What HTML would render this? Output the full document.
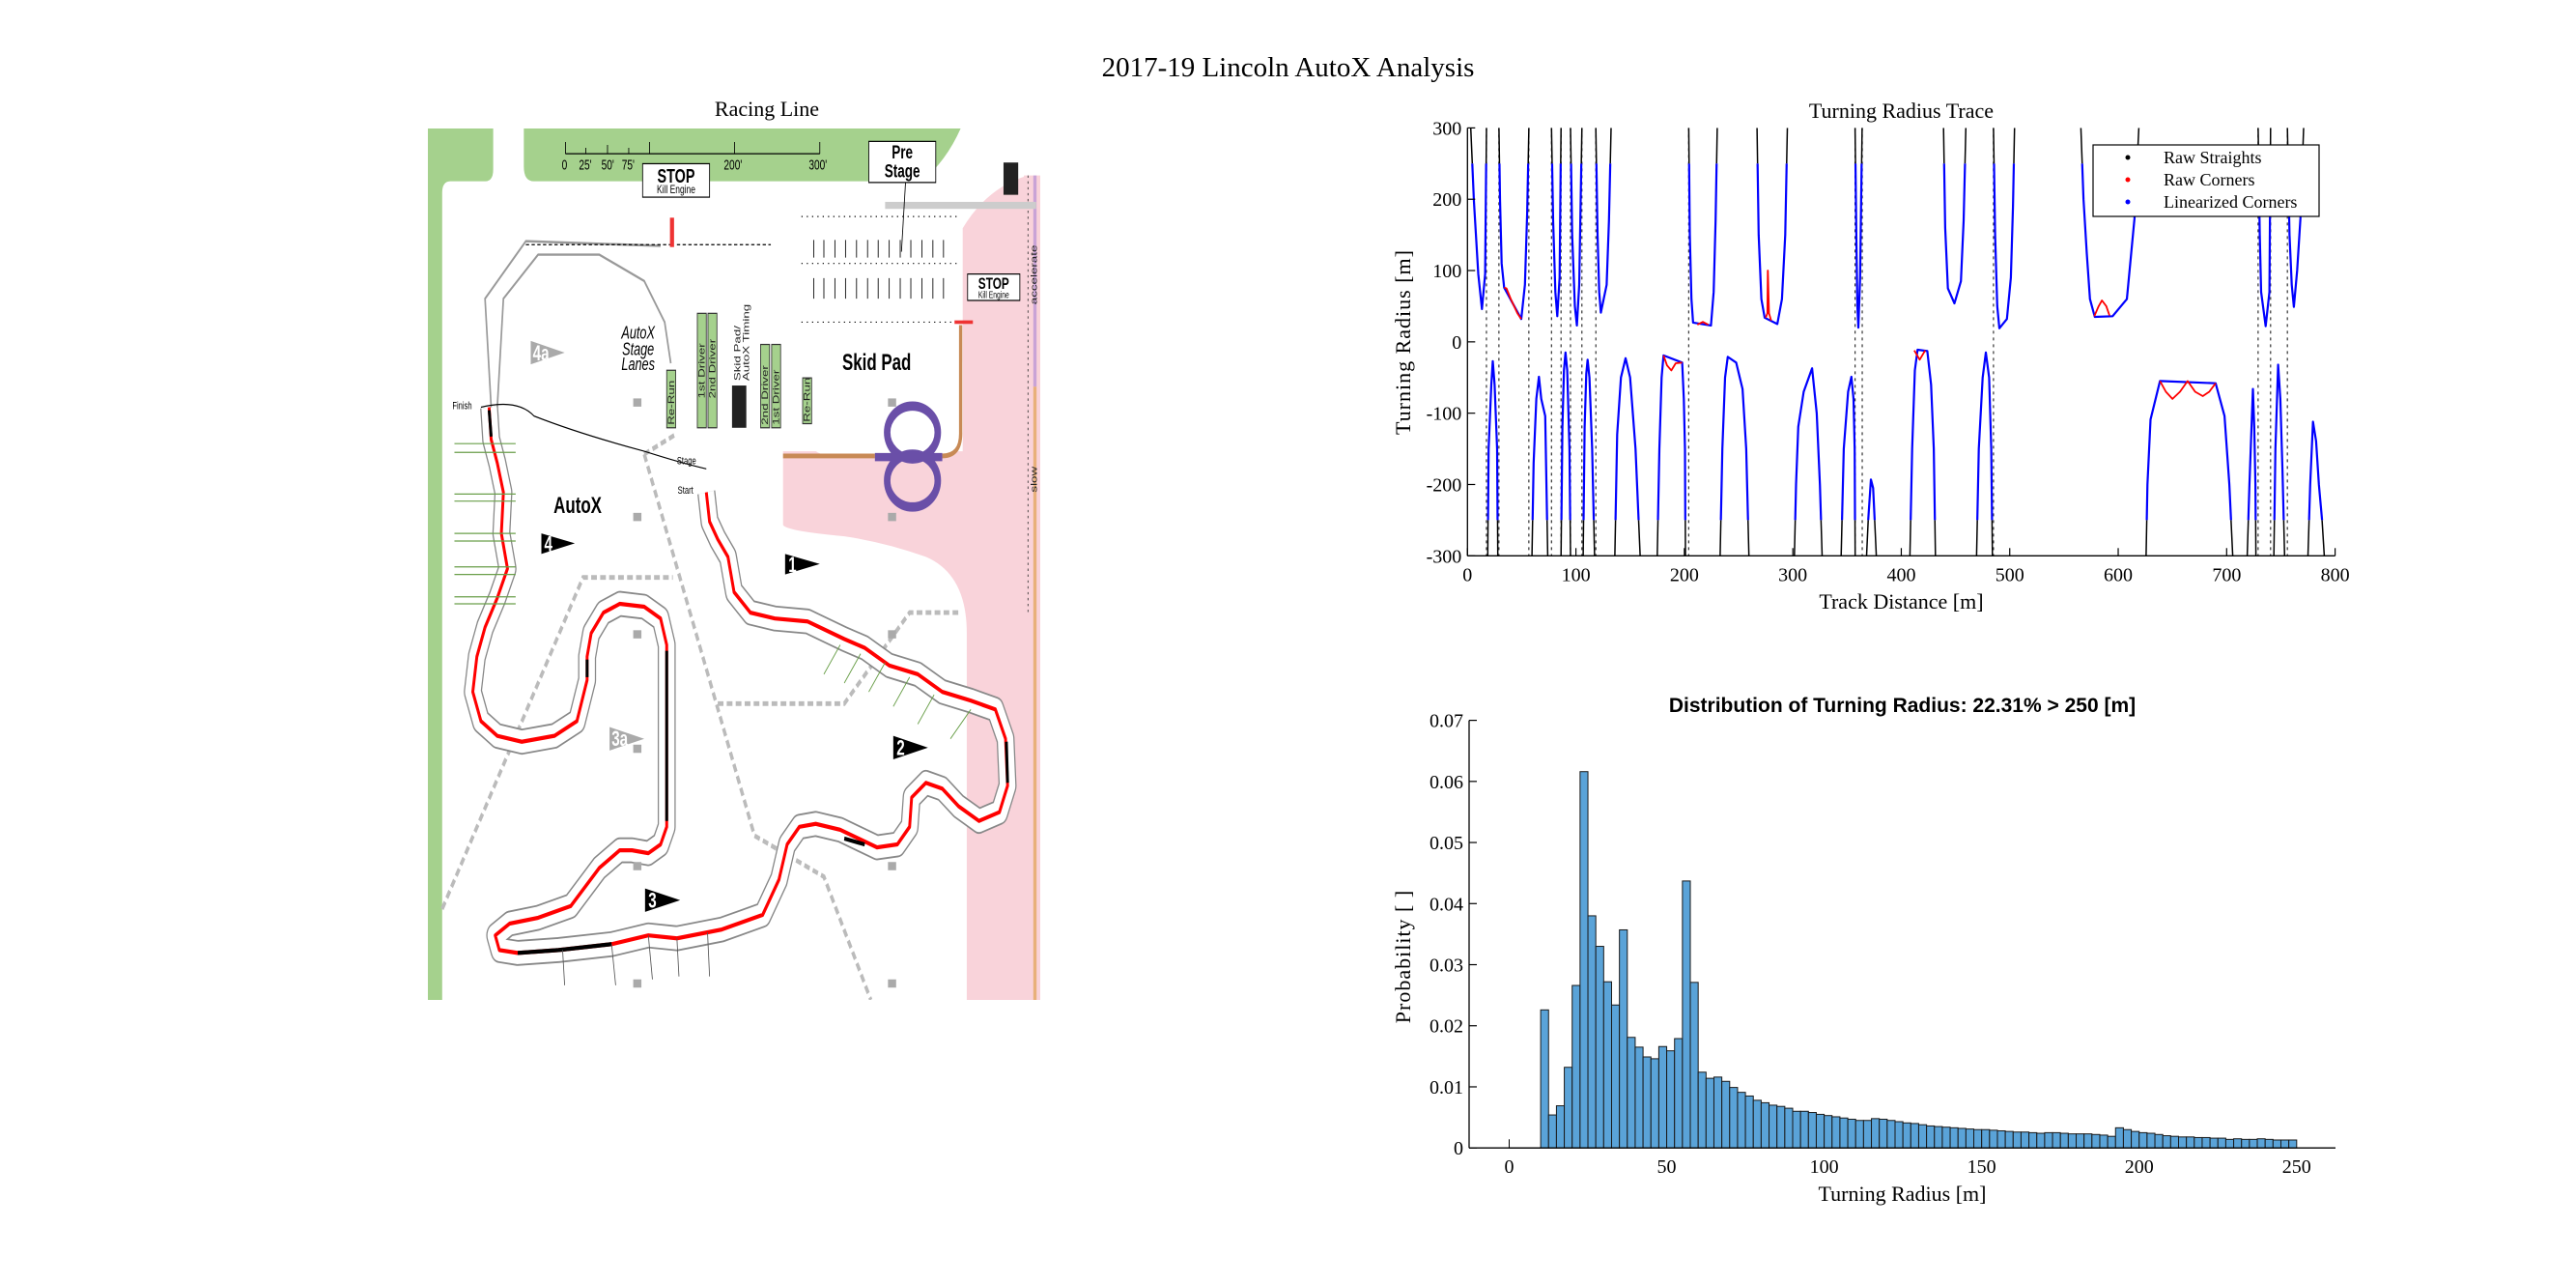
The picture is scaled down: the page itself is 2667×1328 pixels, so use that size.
<!DOCTYPE html>
<html><head><meta charset="utf-8"><style>
html,body{margin:0;padding:0;background:#fff}
#root{position:relative;width:2667px;height:1328px;overflow:hidden;background:#fff;font-family:"Liberation Serif",serif}
.t{position:absolute;white-space:nowrap}
</style></head><body>
<div id="root">
<div class="t" style="left:0;width:2667px;text-align:center;top:54px;font-size:29px;">2017-19 Lincoln AutoX Analysis</div>
<div class="t" style="left:694px;width:200px;text-align:center;top:100px;font-size:22px;">Racing Line</div>

<svg style="position:absolute;left:443px;top:133px" width="634" height="902" viewBox="30 70 1500 1485" preserveAspectRatio="none">
<rect x="30" y="70" width="1500" height="1485" fill="#fff"/>
<path d="M30,70 H190 V140 Q190,160 170,160 H85 Q65,160 65,180 V1555 H30 Z" fill="#a5d18d"/>
<path d="M265,70 H1335 Q1300,125 1240,160 H290 Q265,160 265,135 Z" fill="#a5d18d"/>
<path d="M1340,240 Q1400,170 1500,150 V1555 H1350 V930 Q1350,830 1250,800 Q1150,775 1050,765 Q900,755 900,745 V620 H1340 Z" fill="#f9d3da"/>
<rect x="1490" y="150" width="40" height="1405" fill="#f9d3da"/>
<line x1="1517" y1="150" x2="1517" y2="510" stroke="#c9a3d6" stroke-width="8"/>
<line x1="1517" y1="510" x2="1517" y2="1555" stroke="#e8b07a" stroke-width="8"/>
<line x1="1500" y1="150" x2="1500" y2="900" stroke="#333" stroke-width="2" stroke-dasharray="4,6"/>
<rect x="960" y="430" width="380" height="195" rx="40" fill="#fff"/>
<g fill="none" stroke="#bbb" stroke-width="8" stroke-dasharray="14,8">
<path d="M65,1400 L410,835 H630"/><path d="M560,625 L640,590"/><path d="M560,625 L830,1275 L1000,1345 L1115,1555"/><path d="M740,1050 H1050 L1210,895 H1335"/>
</g>
<g stroke="#000" stroke-width="2" fill="none">
<path d="M367,113 H990 M367,93 V113 M417,103 V113 M470,98 V113 M522,103 V113 M573,93 V113 M781,93 V113 M990,93 V113"/>
</g>
<g font-family="Liberation Sans,sans-serif" font-size="24" fill="#000">
<text x="358" y="140">0</text><text x="400" y="140">25'</text><text x="455" y="140">50'</text><text x="505" y="140">75'</text><text x="755" y="140">200'</text><text x="963" y="140">300'</text>
</g>
<g fill="none" stroke-linejoin="round">
<path id="trk" d="M180,545 L185,600 L200,640 L215,690 L210,760 L225,820 L200,870 L170,920 L150,970 L140,1030 L160,1080 L200,1105 L260,1115 L340,1105 L395,1080 L420,1010 L420,970 L430,930 L460,895 L500,880 L560,885 L600,905 L615,950 L615,1260 L600,1290 L570,1305 L530,1300 L500,1300 L450,1330 L380,1395 L300,1415 L230,1425 L195,1445 L205,1470 L250,1475 L350,1470 L480,1460 L570,1445 L640,1450 L750,1435 L850,1410 L890,1350 L910,1290 L940,1260 L980,1255 L1040,1265 L1130,1295 L1180,1290 L1210,1260 L1215,1210 L1250,1185 L1290,1195 L1330,1225 L1380,1250 L1430,1235 L1450,1190 L1445,1110 L1420,1060 L1360,1045 L1290,1030 L1230,1000 L1160,985 L1100,955 L1050,940 L960,910 L880,905 L820,895 L780,860 L765,800 L740,770 L720,740 L712,690" stroke="#888" stroke-width="44"/>
<path d="M180,545 L185,600 L200,640 L215,690 L210,760 L225,820 L200,870 L170,920 L150,970 L140,1030 L160,1080 L200,1105 L260,1115 L340,1105 L395,1080 L420,1010 L420,970 L430,930 L460,895 L500,880 L560,885 L600,905 L615,950 L615,1260 L600,1290 L570,1305 L530,1300 L500,1300 L450,1330 L380,1395 L300,1415 L230,1425 L195,1445 L205,1470 L250,1475 L350,1470 L480,1460 L570,1445 L640,1450 L750,1435 L850,1410 L890,1350 L910,1290 L940,1260 L980,1255 L1040,1265 L1130,1295 L1180,1290 L1210,1260 L1215,1210 L1250,1185 L1290,1195 L1330,1225 L1380,1250 L1430,1235 L1450,1190 L1445,1110 L1420,1060 L1360,1045 L1290,1030 L1230,1000 L1160,985 L1100,955 L1050,940 L960,910 L880,905 L820,895 L780,860 L765,800 L740,770 L720,740 L712,690" stroke="#fff" stroke-width="38"/>
<path d="M185,545 L170,360 L270,262 L600,270 M200,545 L215,360 L300,285 L450,285 L560,330 L610,400 L625,470" stroke="#999" stroke-width="4"/>
<path d="M270,268 H630 M640,268 H870" stroke="#000" stroke-width="2" stroke-dasharray="8,6"/>
<path d="M160,545 Q250,530 290,560 Q400,590 560,620 Q650,640 712,650" stroke="#000" stroke-width="2"/>
</g>
<path d="M180,545 L185,600 L200,640 L215,690 L210,760 L225,820 L200,870 L170,920 L150,970 L140,1030 L160,1080 L200,1105 L260,1115 L340,1105 L395,1080 L420,1010 L420,970 L430,930 L460,895 L500,880 L560,885 L600,905 L615,950 L615,1260 L600,1290 L570,1305 L530,1300 L500,1300 L450,1330 L380,1395 L300,1415 L230,1425 L195,1445 L205,1470 L250,1475 L350,1470 L480,1460 L570,1445 L640,1450 L750,1435 L850,1410 L890,1350 L910,1290 L940,1260 L980,1255 L1040,1265 L1130,1295 L1180,1290 L1210,1260 L1215,1210 L1250,1185 L1290,1195 L1330,1225 L1380,1250 L1430,1235 L1450,1190 L1445,1110 L1420,1060 L1360,1045 L1290,1030 L1230,1000 L1160,985 L1100,955 L1050,940 L960,910 L880,905 L820,895 L780,860 L765,800 L740,770 L720,740 L712,690" fill="none" stroke="#ff0000" stroke-width="7" stroke-linejoin="round"/>
<g stroke="#000" stroke-width="7" fill="none"><path d="M180,550 L185,595"/><path d="M615,960 L615,1250"/><path d="M250,1475 L350,1470 L480,1460"/><path d="M420,975 L420,1005"/><path d="M1447,1115 L1450,1185"/><path d="M1050,1280 L1100,1290"/></g>
<g>
<path d="M900,628 H1125 M1290,628 Q1335,628 1335,590 V405" fill="none" stroke="#c88a55" stroke-width="8"/>
<line x1="1125" y1="630" x2="1290" y2="630" stroke="#6a4fa8" stroke-width="14"/>
<ellipse cx="1217" cy="588" rx="62" ry="45" fill="none" stroke="#6a4fa8" stroke-width="16"/>
<ellipse cx="1217" cy="670" rx="62" ry="45" fill="none" stroke="#6a4fa8" stroke-width="16"/>
</g>
<g stroke="#000" stroke-width="2" stroke-dasharray="3,10" fill="none"><path d="M945,220 H1330 M945,300 H1330 M945,400 H1330"/></g>
<g stroke="#000" stroke-width="2"><path d="M975,260 V290 M1000,260 V290 M1027,260 V290 M1053,260 V290 M1080,260 V290 M1107,260 V290 M1133,260 V290 M1160,260 V290 M1187,260 V290 M1213,260 V290 M1240,260 V290 M1267,260 V290 M1293,260 V290 M975,325 V360 M1000,325 V360 M1027,325 V360 M1053,325 V360 M1080,325 V360 M1107,325 V360 M1133,325 V360 M1160,325 V360 M1187,325 V360 M1213,325 V360 M1240,325 V360 M1267,325 V360 M1293,325 V360"/></g>
<rect x="1150" y="195" width="370" height="12" fill="#ccc"/>
<g><rect x="556" y="130" width="164" height="57" fill="#fff" stroke="#000" stroke-width="2"/><text x="638" y="162" text-anchor="middle" font-family="Liberation Sans,sans-serif" font-weight="bold" font-size="34">STOP</text><text x="638" y="180" text-anchor="middle" font-family="Liberation Sans,sans-serif" font-size="20">Kill Engine</text><rect x="623" y="222" width="10" height="50" fill="#e33"/></g>
<g><rect x="1352" y="318" width="128" height="45" fill="#fff" stroke="#000" stroke-width="2"/><text x="1416" y="343" text-anchor="middle" font-family="Liberation Sans,sans-serif" font-weight="bold" font-size="28">STOP</text><text x="1416" y="359" text-anchor="middle" font-family="Liberation Sans,sans-serif" font-size="16">Kill Engine</text><rect x="1320" y="397" width="45" height="6" fill="#e33"/></g>
<g><rect x="1110" y="92" width="164" height="70" fill="#fff" stroke="#000" stroke-width="2"/><text x="1192" y="121" text-anchor="middle" font-family="Liberation Sans,sans-serif" font-weight="bold" font-size="32">Pre</text><text x="1192" y="153" text-anchor="middle" font-family="Liberation Sans,sans-serif" font-weight="bold" font-size="32">Stage</text><line x1="1200" y1="162" x2="1190" y2="280" stroke="#000" stroke-width="2"/></g>
<rect x="1440" y="128" width="36" height="55" fill="#222"/>
<rect x="775" y="508" width="35" height="72" fill="#222"/>
<g font-family="Liberation Sans,sans-serif" fill="#000">
<text x="1045" y="482" font-weight="bold" font-size="40">Skid Pad</text>
<text x="338" y="725" font-weight="bold" font-size="40">AutoX</text>
<text x="545" y="428" text-anchor="middle" font-style="italic" font-size="30">AutoX</text>
<text x="545" y="456" text-anchor="middle" font-style="italic" font-size="30">Stage</text>
<text x="545" y="482" text-anchor="middle" font-style="italic" font-size="30">Lanes</text>
<text x="90" y="548" font-size="18">Finish</text><text x="640" y="642" font-size="18">Stage</text><text x="642" y="692" font-size="18">Start</text>
</g>
<g fill="#a5d18d" stroke="#333" stroke-width="2">
<rect x="615" y="482" width="22" height="98"/><rect x="690" y="385" width="22" height="195"/><rect x="716" y="385" width="22" height="195"/><rect x="845" y="438" width="22" height="142"/><rect x="872" y="438" width="22" height="142"/><rect x="948" y="495" width="22" height="78"/>
</g>
<g font-family="Liberation Sans,sans-serif" font-size="22" fill="#222">
<text transform="translate(633,575) rotate(-90)">Re-Run</text><text transform="translate(708,530) rotate(-90)">1st Driver</text><text transform="translate(734,530) rotate(-90)">2nd Driver</text><text transform="translate(863,575) rotate(-90)">2nd Driver</text><text transform="translate(890,575) rotate(-90)">1st Driver</text><text transform="translate(966,570) rotate(-90)">Re-Run</text><text transform="translate(795,500) rotate(-90)">Skid Pad/</text><text transform="translate(817,500) rotate(-90)">AutoX Timing</text><text transform="translate(1522,370) rotate(-90)">accelerate</text><text transform="translate(1522,690) rotate(-90)">slow</text>
</g>
<g font-family="Liberation Sans,sans-serif" font-weight="bold" font-size="36">
<path d="M905,795 L990,812 L905,830 Z" fill="#000"/><text x="913" y="826" fill="#fff">1</text>
<path d="M1170,1105 L1255,1125 L1170,1145 Z" fill="#000"/><text x="1178" y="1138" fill="#fff">2</text>
<path d="M562,1365 L648,1385 L562,1405 Z" fill="#000"/><text x="570" y="1398" fill="#fff">3</text>
<path d="M308,760 L390,777 L308,795 Z" fill="#000"/><text x="315" y="790" fill="#fff">4</text>
<path d="M475,1090 L560,1110 L475,1130 Z" fill="#aaa"/><text x="480" y="1122" fill="#fff">3a</text>
<path d="M282,432 L365,452 L282,472 Z" fill="#aaa"/><text x="287" y="465" fill="#fff">4a</text>
</g>
<g fill="#aaa"><rect x="533" y="530" width="20" height="14"/><rect x="533" y="725" width="20" height="14"/><rect x="533" y="925" width="20" height="14"/><rect x="533" y="1120" width="20" height="14"/><rect x="533" y="1320" width="20" height="14"/><rect x="533" y="1520" width="20" height="14"/><rect x="1157" y="530" width="20" height="14"/><rect x="1157" y="725" width="20" height="14"/><rect x="1157" y="925" width="20" height="14"/><rect x="1157" y="1320" width="20" height="14"/><rect x="1157" y="1520" width="20" height="14"/></g>
<g stroke="#6a9f4a" stroke-width="2"><path d="M95,607 H245 M95,622 H245 M95,693 H245 M95,705 H245 M95,760 H245 M95,773 H245 M95,817 H245 M95,830 H245 M95,868 H245 M95,880 H245"/><path d="M1000,1000 L1040,950 M1050,1015 L1090,965 M1110,1030 L1150,980 M1170,1055 L1210,1005 M1230,1085 L1270,1035 M1310,1110 L1360,1060"/></g>
<g stroke="#555" stroke-width="2"><path d="M360,1470 L365,1530 M480,1460 L490,1530 M570,1445 L580,1520 M640,1450 L645,1515 M715,1440 L720,1515"/></g>
</svg>

<svg id="trace" style="position:absolute;left:0;top:0" width="2667" height="700"></svg>
<svg id="hist" style="position:absolute;left:0;top:0" width="2667" height="1328"></svg>
</div>
<script>
// ---------- Turning radius trace data ----------
const cornerDist = [
 [3,6,10,13.4,16.3,17.5],
 [29,30,31.5,33.8,49.6,53,55,56.6],
 [77.5,79,81,82.8,85,86.3],
 [95,96.5,99,100.9,103,105.5],
 [118.4,120,121.5,123,128.3,130.5,132.4],
 [204,205,206.5,208,224.5,227,228.8,230.3],
 [267,268.5,271,274,285.7,290,293,295],
 [357.4,358.5,359.5,360.4,362,363.9],
 [439,440.5,443,449,455,457.5,459.5],
 [485,486.5,488.5,490.4,497.4,501,503,504.4],
 [565.6,568,571,574,578.4,594.8,608,615,619],
 [729,730.5,731.8,736,739.4,740.5],
 [756,758,760,762,765,768,771],
 [18.7,19.5,22,23.3,25,27.3,28],
 [59.5,61,63.5,65.9,68,71.7,74],
 [86.3,87.5,89,90.4,92,94,95],
 [106.7,108,109.5,110.8,112.5,115,117.2],
 [135.9,138,141.5,145.8,150,155,159.2],
 [175,177,179,180.8,198,199.5,200.6,201],
 [233,235,237.5,240,247.8,253.6,257,259.5],
 [301.5,303,305,310,317.8,322,325,327],
 [344.6,347,351,354,356,357,357.5],
 [368,369.5,372,374,375.5,377],
 [408,410,412.5,415,424,427.5,430,431.5],
 [469.4,471.5,475,478,481,483,484],
 [625.7,627,629.8,638.5,689.8,698,702.5,705.6],
 [719,721,724.2,725.5,726.5,727],
 [743.5,745,747.5,749.5,751.5,753.4],
 [775,777,779.6,782.5,785,788,790]
];
const cornerRadius = [
 [300,197,95,46,95,300],
 [300,200,110,76,32,80,180,300],
 [300,170,70,36,90,300],
 [300,150,50,23,80,300],
 [300,150,70,41,80,170,300],
 [300,150,60,27,23,70,170,300],
 [300,150,60,34,25,60,150,300],
 [300,150,50,20,90,300],
 [300,160,75,54,85,170,300],
 [300,150,50,19,32,90,190,300],
 [300,200,124,60,35,36,60,173,300],
 [300,150,70,22,70,300],
 [300,150,80,49,100,173,300],
 [-300,-150,-60,-27,-60,-150,-300],
 [-300,-170,-80,-49,-80,-104,-300],
 [-300,-120,-40,-15,-40,-150,-300],
 [-300,-120,-45,-25,-50,-150,-300],
 [-300,-130,-50,-23,-50,-150,-300],
 [-300,-150,-50,-19,-29,-80,-150,-300],
 [-300,-150,-50,-21,-29,-66,-150,-300],
 [-300,-200,-119,-70,-37,-100,-200,-300],
 [-300,-150,-70,-49,-80,-150,-300],
 [-300,-250,-193,-205,-250,-300],
 [-300,-150,-40,-11,-13,-60,-150,-300],
 [-300,-150,-50,-15,-50,-150,-300],
 [-300,-200,-109,-55,-58,-104,-200,-300],
 [-300,-200,-66,-120,-200,-300],
 [-300,-150,-32,-80,-180,-300],
 [-300,-200,-112,-139,-200,-250,-300]
];
const rawCornerDist = [[33.8,36,40,46,49.6],[212,217,222],[275,276.5,277,278,280],[578,582,585,589,592],[180.8,184,188,192,198],[412,417,422],[638.5,644,650,657,664,671,678,684,689.8]];
const rawCornerRadius = [[76,75,60,40,32],[24,28,24],[34,40,100,40,30],[36,50,58,50,37],[-19,-33,-40,-30,-29],[-12,-25,-12],[-55,-70,-80,-70,-55,-70,-76,-70,-58]];
const straightMarkers = [17.5,29,56.6,77.5,86.3,95,105.5,118.4,204,357.4,364,485,729,740.5,756];
const traceXTicks = [0,100,200,300,400,500,600,700,800];
const traceYTicks = [300,200,100,0,-100,-200,-300];

// ---------- Histogram data ----------
const histStart = 10, histBinWidth = 2.5;
const histProb = [0.0226,0.0054,0.0069,0.0132,0.0266,0.0616,0.0380,0.0330,0.0272,0.0234,
0.0357,0.0181,0.0165,0.0149,0.0146,0.0166,0.0159,0.0179,0.0437,0.0271,
0.0124,0.0114,0.0116,0.0109,0.0099,0.0091,0.0085,0.0078,0.0074,0.0070,
0.0068,0.0065,0.0060,0.0060,0.0058,0.0055,0.0053,0.0051,0.0049,0.0047,
0.0045,0.0045,0.0048,0.0047,0.0045,0.0043,0.0041,0.0040,0.0038,0.0036,
0.0035,0.0034,0.0033,0.0032,0.0031,0.0030,0.0030,0.0029,0.0028,0.0027,
0.0026,0.0026,0.0025,0.0024,0.0025,0.0025,0.0024,0.0023,0.0023,0.0023,
0.0022,0.0021,0.0019,0.0033,0.0030,0.0027,0.0025,0.0024,0.0022,0.0020,
0.0019,0.0018,0.0018,0.0017,0.0017,0.0016,0.0016,0.0014,0.0015,0.0014,
0.0014,0.0015,0.0014,0.0013,0.0013,0.0013];
const histXTicks = [0,50,100,150,200,250];
const histYTicks = [0,0.01,0.02,0.03,0.04,0.05,0.06,0.07];
const histYLabels = ['0','0.01','0.02','0.03','0.04','0.05','0.06','0.07'];

const NS='http://www.w3.org/2000/svg';
function mk(parent,tag,attrs,text){const e=document.createElementNS(NS,tag);for(const k in attrs)e.setAttribute(k,attrs[k]);if(text!==undefined)e.textContent=text;parent.appendChild(e);return e;}

// ---- trace chart ----
(function(){
const svg=document.getElementById('trace');
const X0=1519.3,X1=2417.6,Y0=132.4,Y1=575.3;
const xT=d=>X0+d*(X1-X0)/800;
const yT=r=>(Y0+Y1)/2 - r*(Y1-Y0)/600;
const defs=mk(svg,'defs',{});
const c1=mk(defs,'clipPath',{id:'cpIn'});mk(c1,'rect',{x:X0,y:yT(250),width:X1-X0,height:yT(-250)-yT(250)});
const c2=mk(defs,'clipPath',{id:'cpOut'});mk(c2,'rect',{x:X0,y:Y0,width:X1-X0,height:yT(250)-Y0});mk(c2,'rect',{x:X0,y:yT(-250),width:X1-X0,height:Y1-yT(-250)});
const t=mk(svg,'text',{x:(X0+X1)/2,y:122,'text-anchor':'middle','font-size':22,'font-family':'Liberation Serif,serif'},'Turning Radius Trace');


straightMarkers.forEach(d=>{const l=mk(svg,'line',{x1:xT(d),x2:xT(d),y1:Y0,y2:Y1,stroke:'#333','stroke-width':1.2,'stroke-dasharray':'3,4'});

});
cornerDist.forEach((ds,i)=>{
 const pts=ds.map((d,j)=>xT(d).toFixed(1)+','+yT(cornerRadius[i][j]).toFixed(1)).join(' ');
 const b=mk(svg,'polyline',{points:pts,fill:'none',stroke:'#0000ff','stroke-width':2.2,'clip-path':'url(#cpIn)','stroke-linejoin':'round'});
 
 
 const k=mk(svg,'polyline',{points:pts,fill:'none',stroke:'#000','stroke-width':1.5,'clip-path':'url(#cpOut)'});
 
 
});
rawCornerDist.forEach((ds,i)=>{
 const pts=ds.map((d,j)=>xT(d).toFixed(1)+','+yT(rawCornerRadius[i][j]).toFixed(1)).join(' ');
 const r=mk(svg,'polyline',{points:pts,fill:'none',stroke:'#ff0000','stroke-width':1.8,'stroke-linejoin':'round'});
 
 
});
mk(svg,'line',{x1:X0,x2:X1,y1:Y1,y2:Y1,stroke:'#000','stroke-width':1.3});
mk(svg,'line',{x1:X0,x2:X0,y1:Y0,y2:Y1,stroke:'#000','stroke-width':1.3});
traceXTicks.forEach(v=>{mk(svg,'line',{x1:xT(v),x2:xT(v),y1:Y1,y2:Y1-8,stroke:'#000','stroke-width':1.2});
 const l=mk(svg,'text',{x:xT(v),y:Y1+26,'text-anchor':'middle','font-size':20,'font-family':'Liberation Serif,serif'},String(v));
 
 });
traceYTicks.forEach(v=>{mk(svg,'line',{x1:X0,x2:X0+8,y1:yT(v),y2:yT(v),stroke:'#000','stroke-width':1.2});
 const l=mk(svg,'text',{x:X0-6,y:yT(v)+7,'text-anchor':'end','font-size':20,'font-family':'Liberation Serif,serif'},String(v));
 
 });
const xl=mk(svg,'text',{x:(X0+X1)/2,y:630,'text-anchor':'middle','font-size':22,'font-family':'Liberation Serif,serif'},'Track Distance [m]');


const yl=mk(svg,'text',{x:0,y:0,transform:'translate(1460,354) rotate(-90)','text-anchor':'middle','font-size':22,'font-family':'Liberation Serif,serif','letter-spacing':'1'},'Turning Radius [m]');


const lg=mk(svg,'g',{});


mk(lg,'rect',{x:2167,y:150,width:234,height:74,fill:'#fff',stroke:'#000','stroke-width':1.2});
[['Raw Straights','#000',163],['Raw Corners','#ff0000',186],['Linearized Corners','#0000ff',209]].forEach(e=>{
 mk(lg,'circle',{cx:2203,cy:e[2],r:2.5,fill:e[1]});
 const tx=mk(lg,'text',{x:2240,y:e[2]+6,'font-size':18,'font-family':'Liberation Serif,serif'},e[0]);
 
 
});
})();

// ---- histogram ----
(function(){
const svg=document.getElementById('hist');
const AX0=1521,AX1=2418;
const hx=v=>1562.5+v*(815.3/250);
const hy=p=>1188.2-p*(442.6/0.07);
const tt=mk(svg,'text',{x:(AX0+AX1)/2,y:737,'text-anchor':'middle','font-size':21,'font-weight':'bold','font-family':'Liberation Sans,sans-serif'},'Distribution of Turning Radius: 22.31% > 250 [m]');


mk(svg,'line',{x1:hx(0),x2:hx(histStart),y1:hy(0),y2:hy(0),stroke:'#000','stroke-width':1.2});
mk(svg,'line',{x1:hx(0),x2:hx(0),y1:hy(0),y2:hy(0)-9,stroke:'#000','stroke-width':1});
histProb.forEach((p,i)=>{
 const a=histStart+i*histBinWidth,b=a+histBinWidth;
 const r=mk(svg,'rect',{x:hx(a),y:hy(p),width:hx(b)-hx(a),height:hy(0)-hy(p),fill:'#5aa3d8',stroke:'#1a1a1a','stroke-width':1});
 
 
});
mk(svg,'line',{x1:AX0,x2:AX1,y1:1188.2,y2:1188.2,stroke:'#000','stroke-width':1.3});
mk(svg,'line',{x1:AX0,x2:AX0,y1:745.6,y2:1188.2,stroke:'#000','stroke-width':1.3});
histXTicks.forEach(v=>{
 const l=mk(svg,'text',{x:hx(v),y:1214,'text-anchor':'middle','font-size':20,'font-family':'Liberation Serif,serif'},String(v));
 
 });
histYTicks.forEach((v,i)=>{mk(svg,'line',{x1:AX0,x2:AX0+8,y1:hy(v),y2:hy(v),stroke:'#000','stroke-width':1.2});
 const l=mk(svg,'text',{x:AX0-6,y:hy(v)+7,'text-anchor':'end','font-size':20,'font-family':'Liberation Serif,serif'},histYLabels[i]);
 
 });
const xl=mk(svg,'text',{x:(AX0+AX1)/2,y:1243,'text-anchor':'middle','font-size':22,'font-family':'Liberation Serif,serif'},'Turning Radius [m]');


const yl=mk(svg,'text',{x:0,y:0,transform:'translate(1460,990) rotate(-90)','text-anchor':'middle','font-size':22,'font-family':'Liberation Serif,serif','letter-spacing':'1'},'Probability [ ]');


})();
</script>
</body></html>
